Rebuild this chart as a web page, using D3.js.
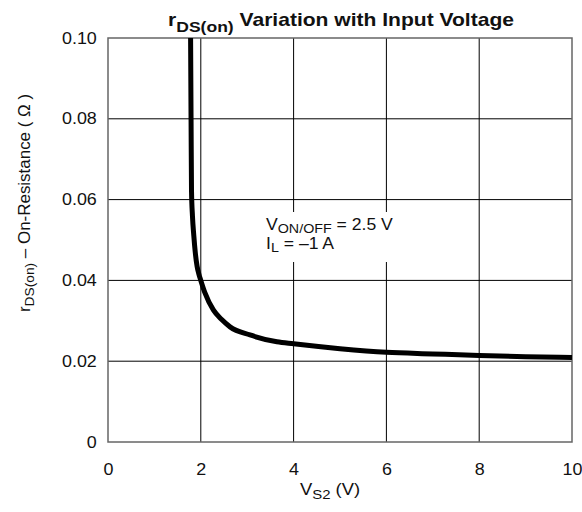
<!DOCTYPE html>
<html>
<head>
<meta charset="utf-8">
<script src="https://cdn.jsdelivr.net/npm/d3@7"></script>
<style>
  body { margin: 0; background: #fff; }
  svg text { font-family: "Liberation Sans", Arial, sans-serif; fill: #111; }
</style>
</head>
<body>
<svg id="chart" width="582" height="512"></svg>
<script>
// values
const vs2 = [1.78, 1.79, 1.80, 1.82, 1.85, 1.88, 1.92, 1.96, 2.0, 2.09, 2.27, 2.45, 2.63, 3.06, 3.64, 4.0, 5.0, 6.0, 7.0, 8.0, 9.0, 10.0];
const rds = [0.100, 0.080, 0.062, 0.056, 0.051, 0.047, 0.0435, 0.0415, 0.0400, 0.0369, 0.0327, 0.0303, 0.0285, 0.0265, 0.0248, 0.0243, 0.0231, 0.0222, 0.0218, 0.0214, 0.0211, 0.0209];
const xTicks = [0, 2, 4, 6, 8, 10];
const yTicks = [0, 0.02, 0.04, 0.06, 0.08, 0.10];

const svg = d3.select('#chart');
const margin = {top: 38, right: 10, bottom: 70, left: 108};
const W = 582, H = 512;
const SX = 1.12; // the reference text is a bit wider than plain Arial

const x = d3.scaleLinear().domain([0, 10]).range([margin.left, W - margin.right]);
const y = d3.scaleLinear().domain([0, 0.10]).range([H - margin.bottom, margin.top]);

// grid
const grid = svg.append('g');
grid.selectAll('line.vx').data(xTicks.slice(1, -1)).join('line')
    .attr('x1', d => x(d)).attr('x2', d => x(d))
    .attr('y1', y(0)).attr('y2', y(0.10))
    .attr('stroke', '#000').attr('stroke-width', 1);
grid.selectAll('line.hy').data(yTicks.slice(1, -1)).join('line')
    .attr('x1', x(0)).attr('x2', x(10))
    .attr('y1', d => y(d)).attr('y2', d => y(d))
    .attr('stroke', '#000').attr('stroke-width', 1);

// frame
svg.append('rect')
    .attr('x', x(0)).attr('y', y(0.10))
    .attr('width', x(10) - x(0)).attr('height', y(0) - y(0.10))
    .attr('fill', 'none').attr('stroke', '#666').attr('stroke-width', 1.5);

// axes (labels only, ticks hidden)
const xAxis = svg.append('g').attr('transform', `translate(0,${y(0)})`)
    .call(d3.axisBottom(x).tickValues(xTicks).tickSize(0).tickPadding(22).tickFormat(d3.format('d')));
const yAxis = svg.append('g').attr('transform', `translate(${x(0)},0)`)
    .call(d3.axisLeft(y).tickValues(yTicks).tickSize(0).tickPadding(10)
        .tickFormat(d => d === 0 ? '0' : d3.format('.2f')(d)));
[xAxis, yAxis].forEach(a => {
    a.select('.domain').remove();
    a.selectAll('text').style('font-size', '16px')
        .style('font-family', '"Liberation Sans", Arial, sans-serif')
        .attr('fill', '#111').attr('transform', `scale(${SX},1)`);
});

// annotation box
svg.append('rect')
    .attr('x', 262).attr('y', 212).attr('width', 138).attr('height', 50)
    .attr('fill', '#fff');
const ann = svg.append('g').attr('transform', `translate(266,0) scale(1.1,1)`);
const ann1 = ann.append('text').attr('x', 0).attr('y', 230).style('font-size', '16px');
ann1.append('tspan').text('V');
ann1.append('tspan').attr('dy', 3).style('font-size', '13px').text('ON/OFF');
ann1.append('tspan').attr('dy', -3).text(' = 2.5 V');
const ann2 = ann.append('text').attr('x', 0).attr('y', 249).style('font-size', '16px');
ann2.append('tspan').text('I');
ann2.append('tspan').attr('dy', 3).style('font-size', '13px').text('L');
ann2.append('tspan').attr('dy', -3).text(' = \u20131 A');

// curve
const pts = vs2.map((v, i) => [v, rds[i]]);
svg.append('path').datum(pts)
    .attr('fill', 'none').attr('stroke', '#000').attr('stroke-width', 5)
    .attr('stroke-linejoin', 'round')
    .attr('d', d3.line().x(d => x(d[0])).y(d => y(d[1])).curve(d3.curveMonotoneX));

// title
const title = svg.append('text').attr('transform', 'translate(341,26) scale(1.17,1)')
    .attr('text-anchor', 'middle').style('font-size', '18px').style('font-weight', 'bold');
title.append('tspan').text('r');
title.append('tspan').attr('dy', 6).style('font-size', '15px').text('DS(on)');
title.append('tspan').attr('dy', -6).text(' Variation with Input Voltage');

// x axis title
const xt = svg.append('text').attr('transform', 'translate(330,495) scale(1.15,1)')
    .attr('text-anchor', 'middle').style('font-size', '16px');
xt.append('tspan').text('V');
xt.append('tspan').attr('dy', 4).style('font-size', '13px').text('S2');
xt.append('tspan').attr('dy', -4).text(' (V)');

// y axis title
const yt = svg.append('text').attr('transform', 'translate(30,203) rotate(-90) scale(1.06,1)')
    .attr('text-anchor', 'middle').style('font-size', '16px');
yt.append('tspan').text('r');
yt.append('tspan').attr('dy', 4).style('font-size', '13px').text('DS(on)');
yt.append('tspan').attr('dy', -4).text('  \u2013  On-Resistance  (  \u03A9  )');
</script>
</body>
</html>
